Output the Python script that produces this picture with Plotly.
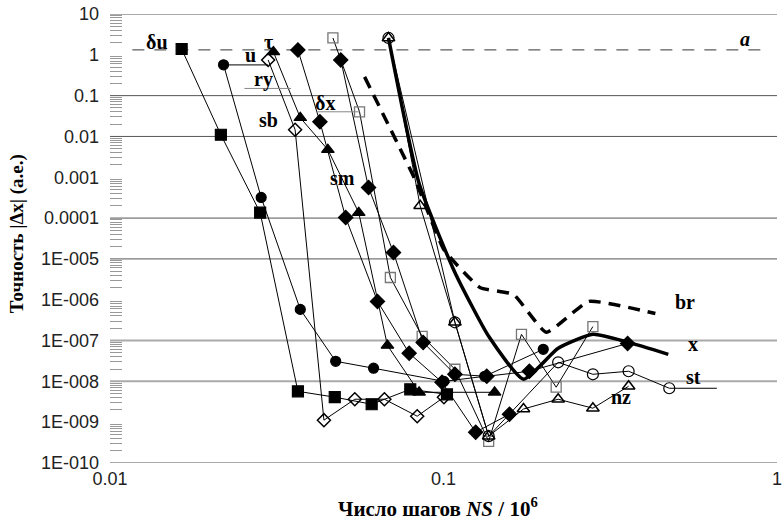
import math
import plotly.graph_objects as go

# ---------------- data ----------------
du_x = [0.0164, 0.0215, 0.0282, 0.0366, 0.0472, 0.0609, 0.0795, 0.1024]
du_y = [1.39, 0.011, 1.36e-4, 5.7e-9, 4.1e-9, 2.75e-9, 6.4e-9, 4.8e-9]

u_x = [0.0219, 0.0284, 0.0372, 0.0475, 0.0617, 0.1003, 0.1329, 0.1991]
u_y = [0.57, 3.2e-4, 5.8e-7, 3.1e-8, 2.1e-8, 1.0e-8, 1.33e-8, 6.1e-8]

tau_x = [0.0309, 0.0372, 0.0450, 0.0557, 0.0679, 0.0845, 0.1423]
tau_y = [1.18, 0.0287, 0.00473, 1.36e-4, 7.6e-8, 5.4e-9, 5.4e-9]

ry_x = [0.0298, 0.0359, 0.0438, 0.0542, 0.0665, 0.0834, 0.1003]
ry_y = [0.75, 0.0146, 1.12e-9, 3.65e-9, 3.65e-9, 1.4e-9, 4.1e-9]

dx_x = [0.0466, 0.0560, 0.0693, 0.0863, 0.1082, 0.1366, 0.1713, 0.2177, 0.2805]
dx_y = [2.59, 0.0402, 3.5e-6, 1.27e-7, 1.98e-8, 3.4e-10, 1.42e-7, 7.2e-9, 2.2e-7]

sb_x = [0.0366, 0.0426, 0.0509, 0.0634, 0.0789, 0.0990, 0.1249, 0.1577]
sb_y = [1.32, 0.0229, 1.03e-4, 9.1e-7, 4.9e-8, 9.5e-9, 5.7e-10, 1.57e-9]

sm_x = [0.0492, 0.0596, 0.0708, 0.0869, 0.1082, 0.1348, 0.1809, 0.3565]
sm_y = [0.75, 5.6e-4, 1.43e-5, 9.0e-8, 1.49e-8, 1.33e-8, 1.77e-8, 8.5e-8]

nz_x = [0.0684, 0.0851, 0.1082, 0.1366, 0.1737, 0.2207, 0.2805, 0.3590]
nz_y = [2.59, 2.0e-4, 2.8e-7, 4.55e-10, 2.1e-9, 3.65e-9, 2.2e-9, 7.6e-9]

st_x = [0.0684, 0.1082, 0.1366, 0.2207, 0.2805, 0.3590, 0.4753]
st_y = [2.59, 2.8e-7, 4.55e-10, 2.93e-8, 1.49e-8, 1.77e-8, 6.78e-9]

xs_x = [0.0684, 0.0845, 0.1082, 0.1366, 0.1737, 0.2207, 0.2805, 0.3590, 0.4721]
xs_y = [2.59, 7.0e-4, 4.65e-6, 1.27e-7, 1.13e-8, 6.45e-8, 1.42e-7, 9.0e-8, 4.6e-8]

br_x = [0.0580, 0.0822, 0.1003, 0.1285, 0.1621, 0.2032, 0.2729, 0.4318]
br_y = [0.288, 8.7e-4, 1.7e-5, 2.0e-6, 1.35e-6, 1.59e-7, 9.1e-7, 4.6e-7]

a_x = [0.01167, 0.931]
a_y = [1.32, 1.32]

y_tickvals = [10, 1, 0.1, 0.01, 1e-3, 1e-4, 1e-5, 1e-6, 1e-7, 1e-8, 1e-9, 1e-10]
y_ticktext = ["10", "1", "0.1", "0.01", "0.001", "0.0001", "1E-005", "1E-006",
              "1E-007", "1E-008", "1E-009", "1E-010"]
x_tickvals = [0.01, 0.1, 1]
x_ticktext = ["0.01", "0.1", "1"]

grid_dark = [0.1, 0.01, 1e-4, 1e-5, 1e-10]
grid_light = [1e-7, 1e-8, 10]

labels = ["δu", "u", "τ", "ry", "sb", "δx", "sm", "br", "x", "st", "nz", "<i>a</i>"]
label_x = [0.01385, 0.0264, 0.0298, 0.0288, 0.0298, 0.0441, 0.0499, 0.530, 0.560, 0.560, 0.340, 0.80]
label_y = [2.07, 1.0, 2.07, 0.243, 0.0256, 0.0667, 9.8e-4, 8.6e-7, 8.07e-8, 1.26e-8, 4.08e-9, 2.45]

# leader lines next to labels: (x0, x1, y, colour)
leaders = [
    (0.0219, 0.0298, 0.566, "#000"),
    (0.0253, 0.0349, 0.15, "#888"),
    (0.0419, 0.0560, 0.0402, "#888"),
    (0.4753, 0.66, 6.78e-9, "#000"),
]

# ---------------- figure ----------------
fig = go.Figure()

for v in grid_dark:
    fig.add_shape(type="line", xref="x domain", yref="y", x0=0, x1=1, y0=v, y1=v,
                  line=dict(color="#555", width=1), layer="below")
for v in grid_light:
    fig.add_shape(type="line", xref="x domain", yref="y", x0=0, x1=1, y0=v, y1=v,
                  line=dict(color="#aaa", width=2), layer="below")

for x0, x1, yv, col in leaders:
    fig.add_shape(type="line", xref="x", yref="y", x0=x0, x1=x1, y0=yv, y1=yv,
                  line=dict(color=col, width=1))


def add(xv, yv, symbol, size, mcolor="black", lcolor="black", lw=1.2):
    fig.add_trace(go.Scatter(
        x=xv, y=yv, mode="lines+markers", line=dict(color="black", width=1),
        marker=dict(symbol=symbol, size=size, color=mcolor,
                    line=dict(color=lcolor, width=lw)),
        showlegend=False, hoverinfo="skip"))


fig.add_trace(go.Scatter(x=a_x, y=a_y, mode="lines",
                         line=dict(color="#333", width=1, dash="12px,10px"),
                         showlegend=False, hoverinfo="skip"))

add(du_x, du_y, "square", 11)
add(u_x, u_y, "circle", 10)
add(tau_x, tau_y, "triangle-up", 11)
add(ry_x, ry_y, "diamond-open", 10, lw=1.5)
add(dx_x, dx_y, "square-open", 10, mcolor="#777", lw=1.3)
add(sb_x, sb_y, "diamond", 11)
add(sm_x, sm_y, "diamond", 11)
add(nz_x, nz_y, "triangle-up-open", 11, lw=1.5)
add(st_x, st_y, "circle-open", 11, lw=1.2)

fig.add_trace(go.Scatter(x=xs_x, y=xs_y, mode="lines",
                         line=dict(color="black", width=3.5, shape="spline", smoothing=0.5),
                         showlegend=False, hoverinfo="skip"))
fig.add_trace(go.Scatter(x=br_x, y=br_y, mode="lines",
                         line=dict(color="black", width=3.5, dash="12px,8px",
                                   shape="spline", smoothing=0.4),
                         showlegend=False, hoverinfo="skip"))

for t, lx, ly in zip(labels, label_x, label_y):
    fig.add_annotation(x=math.log10(lx), y=math.log10(ly), xref="x", yref="y",
                       text="<b>" + t + "</b>", showarrow=False,
                       font=dict(family="Liberation Serif", size=20, color="black"))

fig.add_annotation(x=0.492, y=-0.100, xref="paper", yref="paper",
                   text="<b>Число шагов <i>NS</i> / 10<sup>6</sup></b>", showarrow=False,
                   font=dict(family="Liberation Serif", size=21, color="black"),
                   xanchor="center", yanchor="middle")
fig.add_annotation(x=-0.139, y=0.51, xref="paper", yref="paper", textangle=-90,
                   text="<b>Точность |Δx| (а.е.)</b>", showarrow=False,
                   font=dict(family="Liberation Serif", size=19, color="black"),
                   xanchor="center", yanchor="middle")

minor_vals = [m * 10 ** e for e in range(-10, 1) for m in range(2, 10)]

fig.update_layout(
    width=784, height=524,
    margin=dict(l=110, r=2, t=14, b=61),
    paper_bgcolor="white", plot_bgcolor="white",
    xaxis=dict(type="log", range=[-2, 0], tickmode="array", tickvals=x_tickvals,
               ticktext=x_ticktext, showgrid=False, zeroline=False, showline=False,
               ticks="", ticklabelstandoff=3, ticklabeloverflow="allow",
               tickfont=dict(family="Liberation Sans", size=18, color="#222")),
    yaxis=dict(type="log", range=[-10, 1], tickmode="array", tickvals=y_tickvals,
               ticktext=y_ticktext, showgrid=False, zeroline=False, showline=False,
               ticks="", ticklabelstandoff=10,
               tickfont=dict(family="Liberation Sans", size=18, color="#222"),
               minor=dict(tickmode="array", tickvals=minor_vals, ticks="inside",
                          ticklen=12, tickcolor="#999", tickwidth=1, showgrid=False)),
)

fig.write_html("out.html")
